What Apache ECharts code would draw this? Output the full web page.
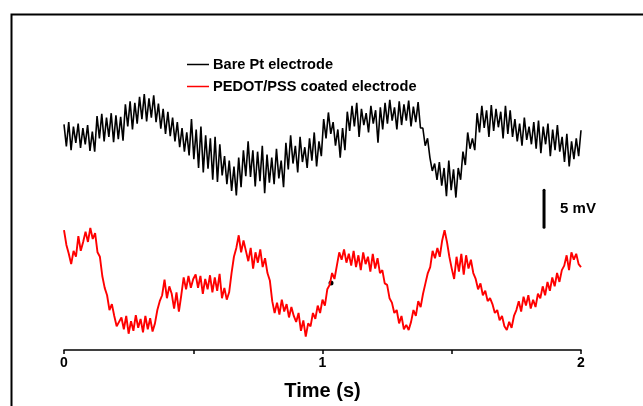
<!DOCTYPE html>
<html>
<head>
<meta charset="utf-8">
<script src="https://cdn.jsdelivr.net/npm/echarts@6/dist/echarts.min.js"></script>
<style>html,body{margin:0;padding:0;background:#fff}#c{width:643px;height:406px}</style>
</head>
<body>
<div id="c"></div>
<script>
// Time span (s) and tick labels
const timeRange = [0, 2];
const tickLabels = ['0', '1', '2'];
const seriesNames = ['Bare Pt electrode', 'PEDOT/PSS coated electrode'];

// Bare Pt electrode signal (mV, uniformly sampled over 0-2 s)
const bareSignal = [
30.5,27.5,30.8,27.0,30.2,28.0,30.6,27.3,30.0,27.8,30.4,26.9,
29.5,26.8,
31.6,28.6,31.9,28.2,31.4,28.8,32.0,28.1,31.7,28.5,31.5,28.3,
33.2,30.2,33.6,29.8,33.4,30.6,
34.2,31.2,34.6,30.9,34.0,31.4,34.4,30.8,
33.3,29.9,32.6,29.2,32.2,28.9,
31.4,28.2,30.8,27.4,30.0,26.8,29.4,26.3,
31.2,25.8,29.8,24.6,30.2,24.0,
29.0,24.5,28.6,23.0,28.8,22.7,
27.8,23.6,26.2,22.4,25.6,21.5,24.8,20.9,26.0,22.0,27.0,23.5,
28.2,23.4,27.0,22.1,26.8,22.8,27.6,21.2,26.4,22.6,
26.0,22.4,27.2,23.2,25.6,22.0,
28.0,24.4,29.0,25.2,27.6,24.0,28.8,25.4,27.4,24.6,
28.6,25.6,29.4,24.8,28.2,26.2,
31.2,28.6,32.1,29.2,30.8,27.6,
29.8,26.0,30.0,27.0,
32.2,29.6,33.0,30.2,33.4,28.8,32.6,30.4,32.0,29.4,
33.0,30.6,32.4,28.0,32.8,29.8,
33.4,30.6,33.8,31.0,32.8,29.8,33.6,30.4,33.2,31.0,33.7,30.2,32.9,30.8,33.5,30.0,
30.0,27.6,28.6,
26.0,24.2,25.2,23.0,
25.4,22.2,24.6,20.8,25.6,21.6,24.4,20.6,
24.6,23.0,26.8,25.0,
29.4,27.2,28.6,27.0,
32.0,29.4,33.0,30.0,32.4,28.8,33.1,29.6,32.6,30.1,32.2,28.6,33.0,29.2,32.4,28.8,
31.2,28.2,30.6,27.6,31.4,28.4,30.2,27.8,
30.8,27.2,31.0,26.6,30.2,27.8,30.6,26.2,29.8,27.0,30.4,26.8,
28.8,25.4,29.2,24.8,28.2,25.8,28.6,26.2,29.7
];

// PEDOT/PSS coated electrode signal (mV, uniformly sampled over 0-2 s)
const pedotSignal = [
16.2,14.2,
13.0,11.6,
13.4,12.6,
15.4,13.4,14.6,
16.0,14.6,16.5,15.0,
15.8,13.2,
12.6,10.0,
8.4,
7.4,5.4,6.2,
4.6,3.2,3.8,
4.4,2.8,4.6,2.2,3.9,2.6,4.7,3.0,4.2,2.4,4.6,2.8,4.3,2.5,
3.6,5.4,6.6,
7.4,9.5,7.0,8.6,
7.6,5.6,7.8,5.2,
7.4,9.8,8.2,10.0,8.4,9.6,
10.2,8.4,10.0,7.6,9.6,8.2,10.1,7.8,9.8,8.0,10.3,
7.0,8.4,6.8,
7.8,10.4,12.6,13.8,
15.5,13.2,14.8,
13.4,12.0,13.8,11.0,13.2,11.8,13.6,11.2,12.4,
10.4,9.4,
6.6,5.0,6.4,4.8,6.8,5.2,6.2,4.4,5.8,4.6,
3.8,5.0,2.6,4.0,1.8,3.6,
3.2,5.0,4.2,6.0,5.0,6.8,6.0,8.2,
8.8,10.4,9.6,11.4,
13.2,12.2,13.6,11.8,
13.0,11.4,13.4,11.2,12.8,10.8,13.2,11.6,12.6,10.6,13.0,11.0,12.4,10.4,
10.8,9.0,8.8,7.0,6.4,5.0,
5.4,3.6,4.6,2.8,3.4,2.7,
3.8,5.4,4.6,6.6,5.8,7.6,
9.0,10.4,11.2,
13.4,12.4,13.8,12.6,
14.8,16.2,14.6,
12.6,11.0,9.6,
12.6,10.6,13.0,10.2,12.8,11.0,12.2,10.4,
9.6,8.2,9.0,7.4,8.0,6.6,7.0,
6.2,5.0,5.4,4.0,4.6,3.2,
2.7,3.8,3.0,4.6,
5.4,6.6,5.2,7.2,6.0,7.4,5.6,6.8,5.8,7.6,
7.0,8.6,7.4,9.2,8.0,9.8,8.6,10.4,9.2,10.8,
11.4,12.8,10.8,13.2,
12.2,13.0,11.6,11.2
];

// Scale bar: 5 mV at t = 1.857 s, from 16.6 mV up
const scaleBarTime = [1.857, 1.857];
const scaleBarValue = [16.6, 21.6];
const scaleBarText = '5 mV';
// Stray black dot on the red trace
const dotPoint = [1.033, 9.05];

function toXY(arr) {
  const n = arr.length;
  return arr.map((v, i) => [timeRange[0] + (timeRange[1] - timeRange[0]) * i / (n - 1), v]);
}

const FONT = '"Liberation Sans", Arial, Helvetica, sans-serif';
const chart = echarts.init(document.getElementById('c'), null, {renderer: 'canvas'});
chart.setOption({
  animation: false,
  backgroundColor: '#fff',
  textStyle: {fontFamily: FONT},
  graphic: [{
    type: 'rect', left: 9, top: 12, silent: true,
    shape: {x: 0, y: 0, width: 700, height: 500},
    style: {fill: 'none', stroke: '#000', lineWidth: 2}
  }],
  legend: {
    data: seriesNames,
    orient: 'vertical',
    left: 182, top: 52,
    icon: 'rect', itemWidth: 22, itemHeight: 1.5, itemGap: 7,
    textStyle: {fontFamily: FONT, fontWeight: 'bold', fontSize: 14.6, color: '#000', padding: [0, 0, 0, -1]}
  },
  grid: {left: 64, right: 62, top: 54, bottom: 56},
  xAxis: {
    type: 'value', min: 0, max: 2, interval: 0.5,
    name: 'Time (s)', nameLocation: 'middle', nameGap: 31,
    nameTextStyle: {fontFamily: FONT, fontWeight: 'bold', fontSize: 20, color: '#000'},
    axisLine: {show: true, lineStyle: {color: '#000', width: 1.5}},
    axisTick: {show: true, length: 4, lineStyle: {color: '#000', width: 1.5}},
    splitLine: {show: false},
    axisLabel: {
      margin: 6, fontFamily: FONT, fontWeight: 'bold', fontSize: 14, color: '#000',
      formatter: v => (Number.isInteger(v) ? tickLabels[v] : '')
    }
  },
  yAxis: {type: 'value', min: 0, max: 40, show: false},
  series: [
    {name: seriesNames[0], type: 'line', data: toXY(bareSignal), symbol: 'none',
     lineStyle: {color: '#000', width: 1.6}, itemStyle: {color: '#000'}},
    {name: seriesNames[1], type: 'line', data: toXY(pedotSignal), symbol: 'none',
     lineStyle: {color: '#ff0000', width: 1.9}, itemStyle: {color: '#ff0000'}},
    {name: 'scale', type: 'line', symbol: 'none',
     data: scaleBarTime.map((t, i) => [t, scaleBarValue[i]]),
     lineStyle: {color: '#000', width: 3, cap: 'round'}},
    {name: 'scaleText', type: 'scatter', symbolSize: 0,
     itemStyle: {opacity: 1, color: '#000'},
     data: [[scaleBarTime[0], (scaleBarValue[0] + scaleBarValue[1]) / 2]],
     label: {show: true, position: 'right', distance: 16, formatter: scaleBarText, opacity: 1,
             fontFamily: FONT, fontWeight: 'bold', fontSize: 15, color: '#000'}},
    {name: 'dot', type: 'scatter', symbolSize: 5, data: [dotPoint], itemStyle: {color: '#000', opacity: 1}}
  ]
});
</script>
</body>
</html>
